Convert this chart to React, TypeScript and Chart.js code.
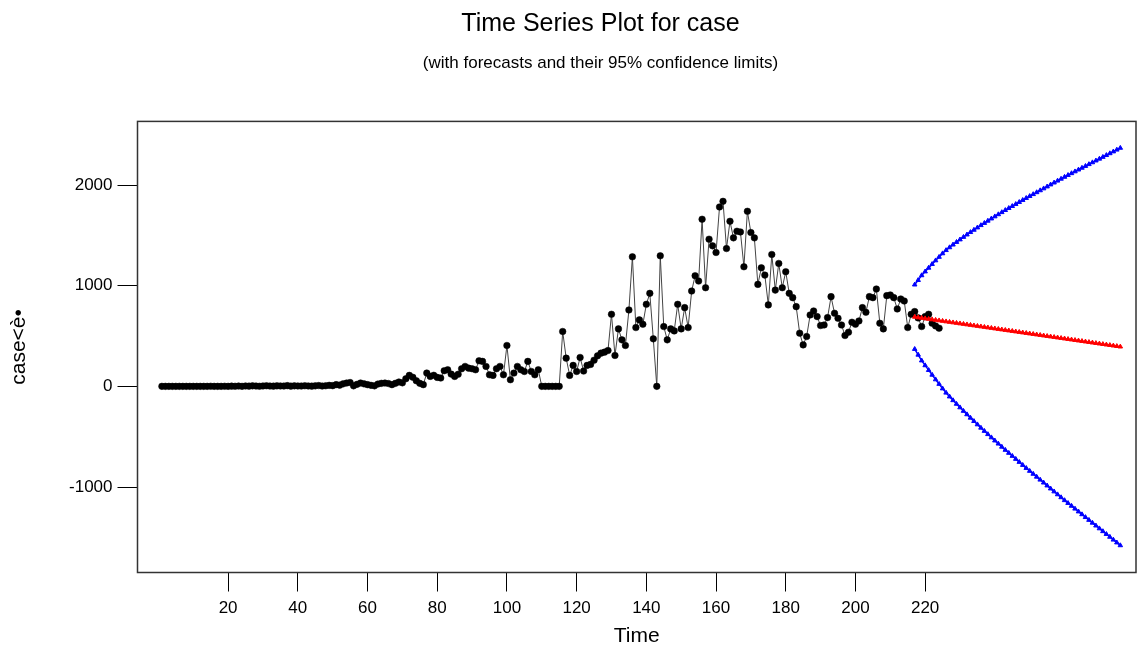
import React, { useEffect, useRef } from "react";
import { Chart, registerables } from "chart.js";

Chart.register(...registerables);

const TITLE = "Time Series Plot for case";
const SUBTITLE = "(with forecasts and their 95% confidence limits)";
const X_LABEL = "Time";
const Y_LABEL = "case<è•";
const X_TICKS = [20, 40, 60, 80, 100, 120, 140, 160, 180, 200, 220];
const Y_TICKS = [-1000, 0, 1000, 2000];

const OBS_START = 1;
const observed = [
  0, 0, 0, 0, 0, 0, 0, 0, 0, 0,
  0, 0, 0, 0, 1, 0, 0, 0, 1, 0,
  2, 1, 3, 0, 4, 2, 5, 3, 1, 4,
  6, 3, 2, 5, 4, 3, 7, 2, 5, 4,
  3, 6, 4, 2, 5, 8, 3, 6, 10, 7,
  17, 12, 25, 33, 38, 5, 20, 33, 25, 17,
  10, 5, 23, 30, 33, 28, 17, 30, 43, 35,
  76, 109, 90, 56, 30, 17, 132, 99, 110, 89,
  83, 155, 165, 122, 99, 120, 175, 198, 181, 175,
  165, 254, 248, 198, 115, 109, 175, 198, 115, 406,
  66, 132, 198, 165, 148, 248, 148, 115, 165, 0,
  0, 0, 0, 0, 0, 545, 280, 109, 208, 148,
  287, 152, 208, 218, 260, 303, 330, 340, 356, 716,
  307, 571, 462, 406, 759, 1287, 584, 660, 617, 815,
  924, 472, 0, 1297, 594, 462, 571, 551, 815, 571,
  782, 584, 947, 1099, 1046, 1660, 980, 1462, 1396, 1330,
  1782, 1838, 1369, 1640, 1475, 1541, 1534, 1188, 1739, 1528,
  1475, 1013, 1178, 1105, 809, 1310, 956, 1221, 980, 1139,
  924, 881, 792, 528, 412, 495, 709, 749, 693, 604,
  610, 683, 891, 726, 676, 610, 505, 538, 637, 617,
  650, 782, 736, 891, 881, 967, 627, 571, 901, 908,
  881, 769, 868, 848, 584, 716, 743, 680, 594, 693,
  716, 627, 600, 578,
];

const FORECAST_START = 217;
const forecast = [
  690, 684, 679, 674, 669, 664, 659, 654, 649, 644,
  639, 634, 629, 624, 619, 614, 609, 604, 599, 594,
  589, 584, 579, 574, 569, 564, 559, 554, 549, 544,
  539, 534, 529, 524, 519, 514, 509, 504, 499, 494,
  489, 484, 479, 474, 469, 464, 459, 454, 449, 444,
  439, 434, 429, 424, 419, 414, 409, 404, 399, 394,
];
const upper95 = [
  1010, 1055, 1102, 1140, 1177, 1214, 1250, 1285, 1320, 1352,
  1380, 1407, 1433, 1458, 1483, 1507, 1531, 1554, 1577, 1600,
  1622, 1644, 1666, 1687, 1708, 1729, 1750, 1770, 1790, 1810,
  1830, 1850, 1870, 1889, 1908, 1927, 1946, 1965, 1984, 2004,
  2023, 2042, 2061, 2080, 2098, 2116, 2134, 2152, 2170, 2188,
  2206, 2224, 2242, 2260, 2278, 2296, 2314, 2332, 2350, 2368,
];
const lower95 = [
  370, 313, 256, 208, 161, 114, 68, 23, -22, -64,
  -102, -139, -175, -210, -245, -279, -313, -346, -379, -412,
  -444, -476, -508, -539, -570, -601, -632, -662, -692, -722,
  -752, -782, -812, -841, -870, -899, -928, -957, -986, -1016,
  -1045, -1074, -1103, -1132, -1160, -1188, -1216, -1244, -1272, -1300,
  -1328, -1356, -1384, -1412, -1440, -1468, -1496, -1524, -1552, -1580,
];

const FONT = "'Liberation Sans', Arial, Helvetica, sans-serif";

const toPoints = (vals: number[], start: number) =>
  vals.map((v, i) => ({ x: start + i, y: v }));

const framePlugin = {
  id: "frame",
  afterDraw(chart: any) {
    const { ctx, chartArea } = chart;
    const { left, top, right, bottom } = chartArea;
    ctx.save();
    ctx.strokeStyle = "#333";
    ctx.lineWidth = 1.5;
    ctx.strokeRect(left, top, right - left, bottom - top);
    ctx.restore();
  },
};

export default function App() {
  const ref = useRef<HTMLCanvasElement | null>(null);

  useEffect(() => {
    if (!ref.current) return;
    const chart = new Chart(ref.current, {
      type: "line",
      data: {
        datasets: [
          {
            label: "Forecast",
            data: toPoints(forecast, FORECAST_START),
            borderColor: "#ff0000",
            backgroundColor: "#ff0000",
            borderWidth: 1.5,
            pointStyle: "triangle",
            pointRadius: 2.6,
            pointBorderWidth: 1,
            order: 0,
          },
          {
            label: "Upper 95%",
            data: toPoints(upper95, FORECAST_START),
            borderColor: "#0000ff",
            backgroundColor: "#0000ff",
            borderWidth: 1.5,
            pointStyle: "triangle",
            pointRadius: 2.6,
            pointBorderWidth: 1,
            order: 1,
          },
          {
            label: "Lower 95%",
            data: toPoints(lower95, FORECAST_START),
            borderColor: "#0000ff",
            backgroundColor: "#0000ff",
            borderWidth: 1.5,
            pointStyle: "triangle",
            pointRadius: 2.6,
            pointBorderWidth: 1,
            order: 2,
          },
          {
            label: "case",
            data: toPoints(observed, OBS_START),
            borderColor: "#444",
            backgroundColor: "#000",
            borderWidth: 1,
            pointStyle: "circle",
            pointRadius: 3.3,
            pointBorderColor: "#000",
            pointBorderWidth: 0.5,
            order: 3,
          },
        ],
      },
      options: {
        responsive: false,
        animation: false,
        events: [],
        layout: { autoPadding: false, padding: { left: 65, right: 1, top: 0, bottom: 0 } },
        plugins: {
          legend: { display: false },
          tooltip: { enabled: false },
          title: {
            display: true,
            text: TITLE,
            color: "#000",
            font: { family: FONT, size: 25, weight: "normal", lineHeight: 1.2 },
            padding: { top: 9, bottom: 14 },
          },
          subtitle: {
            display: true,
            text: SUBTITLE,
            color: "#000",
            font: { family: FONT, size: 17, weight: "normal", lineHeight: 1.2 },
            padding: { top: 0, bottom: 48 },
          },
        },
        scales: {
          x: {
            type: "linear",
            min: -6,
            max: 280.5,
            afterFit: (scale: any) => {
              scale.height = 646 - 572.5;
              scale.paddingLeft = 0;
              scale.paddingRight = 0;
            },
            afterBuildTicks: (scale: any) => {
              scale.ticks = X_TICKS.map((v) => ({ value: v }));
            },
            border: { display: false },
            grid: {
              drawOnChartArea: false,
              drawTicks: true,
              tickLength: 19,
              color: "#000",
              lineWidth: 1,
            },
            ticks: {
              color: "#000",
              font: { family: FONT, size: 17 },
              padding: 7,
              maxRotation: 0,
              autoSkip: false,
              callback: (v: any) => String(v),
            },
            title: {
              display: true,
              text: X_LABEL,
              color: "#000",
              font: { family: FONT, size: 21, lineHeight: 1.1 },
              padding: { top: 0, bottom: -1.5 },
            },
          },
          y: {
            type: "linear",
            min: -1849,
            max: 2632,
            afterFit: (scale: any) => {
              scale.width = 137.5 - 65;
              scale.paddingTop = 0;
              scale.paddingBottom = 0;
            },
            afterBuildTicks: (scale: any) => {
              scale.ticks = Y_TICKS.map((v) => ({ value: v }));
            },
            border: { display: false },
            grid: {
              drawOnChartArea: false,
              drawTicks: true,
              tickLength: 20,
              color: "#000",
              lineWidth: 1,
            },
            ticks: {
              color: "#000",
              font: { family: FONT, size: 17 },
              padding: 5,
              autoSkip: false,
              callback: (v: any) => String(v),
            },
            title: {
              display: true,
              text: Y_LABEL,
              color: "#000",
              font: { family: FONT, size: 21, lineHeight: 1.2 },
              padding: { top: -58.5, bottom: 0 },
            },
          },
        },
      },
      plugins: [framePlugin],
    });
    return () => chart.destroy();
  }, []);

  return (
    <div style={{ position: "fixed", left: 0, top: 0, width: 1137, height: 646, background: "#fff" }}>
      <canvas ref={ref} width={1137} height={646} />
    </div>
  );
}
